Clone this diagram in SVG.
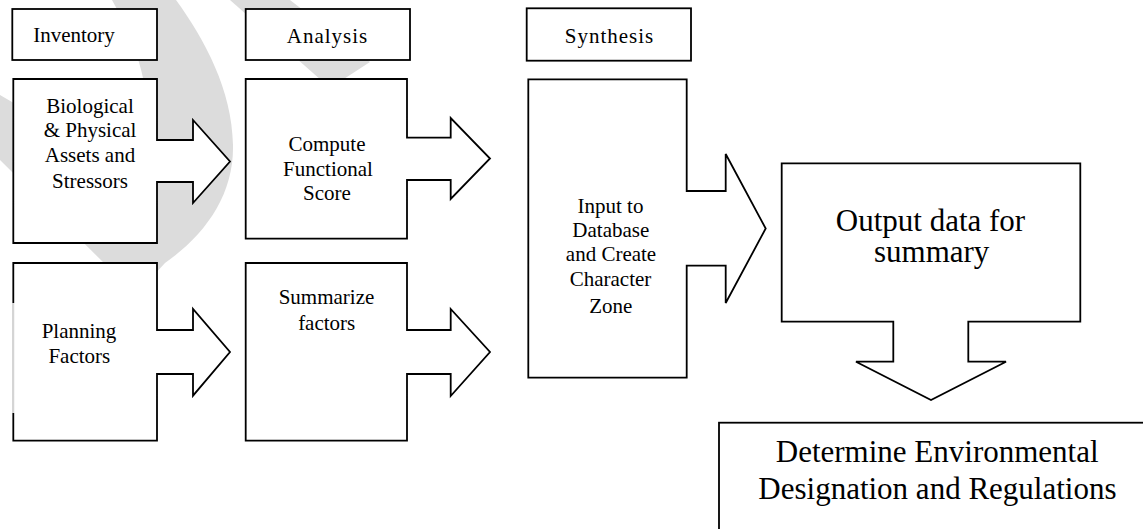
<svg xmlns="http://www.w3.org/2000/svg" width="1143" height="529" viewBox="0 0 1143 529">
<style>
.box{fill:#fff;stroke:#000;stroke-width:1.8;stroke-linejoin:miter}
.t{font-size:21px;fill:#000;text-anchor:middle}
.big{font-size:31px}
.wm{fill:#dcdcdc}
</style>
<rect width="1143" height="529" fill="#fff"/>
<g id="watermark">
<path class="wm" d="M112,0 L176,0 C205,40 232,90 233,145 C234,195 205,235 165,263 L140,290 L115,285 L104,263 L0,160 L0,95 L60,130 L150,150 C150,90 140,50 112,0 Z"/>
<path class="wm" d="M230,0 L290,0 L370,62 L330,88 Z"/>
</g>
<g font-family="Liberation Serif, Times New Roman, DejaVu Serif, serif">
<g id="inventory">
<rect class="box" x="12.3" y="9" width="144.7" height="51"/>
<text class="t" x="74" y="42">Inventory</text>
</g>
<g id="analysis">
<rect class="box" x="245.7" y="9" width="164.3" height="51"/>
<text class="t" x="327.5" y="42.5" letter-spacing="1">Analysis</text>
</g>
<g id="synthesis">
<rect class="box" x="526.7" y="8.3" width="164.3" height="52.4"/>
<text class="t" x="609.5" y="43" letter-spacing="1">Synthesis</text>
</g>
<g id="connectors"></g>
<g id="biological">
<path class="box" d="M13.3,79 H157 V140 H193 V120 L230,161.5 L193,203 V182 H157 V243 H13.3 Z"/>
<text class="t" x="90" y="112.5">Biological</text>
<text class="t" x="90" y="137">&amp; Physical</text>
<text class="t" x="90" y="162">Assets and</text>
<text class="t" x="90" y="187.5">Stressors</text>
</g>
<g id="compute">
<path class="box" d="M245.7,79 H407 V137.7 H450.7 V118 L490,158.5 L450.7,199 V180 H407 V238.7 H245.7 Z"/>
<text class="t" x="327" y="151">Compute</text>
<text class="t" x="328" y="175.5">Functional</text>
<text class="t" x="327" y="200">Score</text>
</g>
<g id="planning">
<path class="box" d="M13.3,263 H157 V330 H193 V309 L230,352 L193,395.7 V374 H157 V440.7 H13.3 Z"/>
<line x1="13.3" y1="303" x2="13.3" y2="413" stroke="#fff" stroke-width="3"/>
<line x1="13" y1="303" x2="13" y2="413" stroke="#aaa" stroke-width="1"/>
<text class="t" x="79" y="337.5">Planning</text>
<text class="t" x="79.3" y="363">Factors</text>
</g>
<g id="summarize">
<path class="box" d="M245.7,263 H407 V330 H450.7 V309 L490,352 L450.7,396 V374 H407 V440.7 H245.7 Z"/>
<text class="t" x="326.5" y="303.5">Summarize</text>
<text class="t" x="326.7" y="330">factors</text>
</g>
<g id="input">
<path class="box" d="M528.3,79.3 H686.7 V191 H725.7 V154 L765.7,228.5 L725.7,303 V265.7 H686.7 V377.7 H528.3 Z"/>
<text class="t" x="610.5" y="213.3">Input to</text>
<text class="t" x="610.8" y="236.7">Database</text>
<text class="t" x="611" y="260.7">and Create</text>
<text class="t" x="610.5" y="286">Character</text>
<text class="t" x="610.8" y="312.7">Zone</text>
</g>
<g id="output">
<path class="box" d="M781.7,163.3 H1080.3 V321.7 H968.3 V361.7 H1006 L931,400 L856,361.7 H893.3 V321.7 H781.7 Z"/>
<text class="t big" x="930.5" y="231">Output data for</text>
<text class="t big" x="931.7" y="262">summary</text>
</g>
<g id="determine">
<rect class="box" x="719" y="422.7" width="600" height="200"/>
<text class="t big" x="937.2" y="461.7">Determine Environmental</text>
<text class="t big" x="937.4" y="499.3">Designation and Regulations</text>
</g>
</g>
</svg>
